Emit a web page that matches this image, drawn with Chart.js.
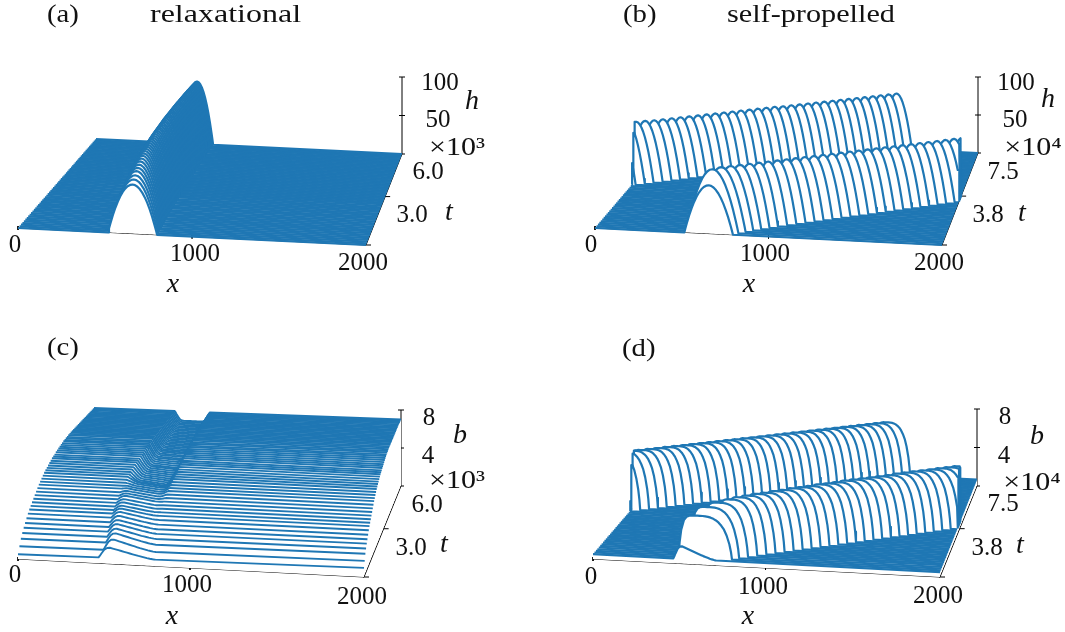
<!DOCTYPE html>
<html><head><meta charset="utf-8">
<script src="https://cdn.jsdelivr.net/npm/chart.js@4"></script>
<style>
html,body{margin:0;padding:0;background:#fff;overflow:hidden}
canvas{position:absolute;display:block}
</style></head><body>
<canvas id="pa" width="533" height="316" style="left:0;top:0"></canvas>
<canvas id="pb" width="532" height="316" style="left:533px;top:0"></canvas>
<canvas id="pc" width="533" height="316" style="left:0;top:316px"></canvas>
<canvas id="pd" width="532" height="316" style="left:533px;top:316px"></canvas>
<script>
// ---------- trace times ----------
const tRelax=[0,100,200,300,400,500,600,700,800,900,1000,1100,1200,1300,1400,1500,1600,1700,1800,1900,2000,2100,2200,2300,2400,2500,2600,2700,2800,2900,3000,3100,3200,3300,3400,3500,3600,3700,3800,3900,4000,4100,4200,4300,4400,4500,4600,4700,4800,4900,5000,5100,5200,5300,5400,5500,5600,5700,5800,5900,6000];
const tSelf=[0,1250,2500,3750,5000,6250,7500,8750,10000,11250,12500,13750,15000,16250,17500,18750,20000,21250,22500,23750,25000,26250,27500,28750,30000,31250,32500,33750,35000,36250,37500,38750,40000,41250,42500,43750,45000,46250,47500,48750,50000,51250,52500,53750,55000,56250,57500,58750,60000,61250,62500,63750,65000,66250,67500,68750,70000,71250,72500,73750,75000];
// ---------- profile shapes on a common grid across the bump ----------
const sGrid=[0,.02,.05,.1,.15,.2,.25,.3,.35,.4,.45,.5,.55,.6,.65,.7,.75,.8,.85,.9,.95,.98,1];
const domeShape=[0,.08,.19,.36,.51,.64,.75,.84,.91,.96,.99,1,.99,.96,.91,.84,.75,.64,.51,.36,.19,.08,0];
const plateauShape=[0,.35,.65,.88,.96,.99,1,1,1,1,1,.995,.985,.97,.945,.91,.86,.79,.7,.56,.36,.18,0];
const sawShape=[0,.15,.4,.78,.97,1,.93,.86,.79,.72,.65,.58,.51,.44,.37,.3,.24,.18,.12,.07,.03,.01,0];
const dipShape=[0,.1,.3,.6,.85,.97,1,1,1,1,1,1,1,1,1,1,1,.98,.9,.65,.3,.1,0];
// ---------- (a) relaxational h ----------
const aPeak=[56,60,63,66,68,70,72,73.5,75,76,77,77.8,78.5,79,79.5,80,80.4,80.8,81.2,81.6,82,82.2,82.4,82.6,82.8,83,83.2,83.4,83.6,83.8,84,84,84,84,84,84,84,84,84,84,84,83.9,83.8,83.7,83.6,83.5,83.4,83.3,83.2,83.1,83,82.8,82.6,82.4,82.2,82,81.8,81.6,81.4,81.2,81];
const aLeft=[517,519,521,523,525,527,528,530,531,532,533,534,535,536,537,538,539,540,540,541,542,542,543,544,544,545,545,546,546,547,547,548,548,549,549,550,550,550,551,551,551,552,552,552,553,553,553,553,554,554,554,554,554,555,555,555,555,555,555,555,555];
const aRight=[799,798,797,796,795,794,793,792,791,790,789,788,787,786,785,784,783,783,782,781,780,780,779,778,778,777,776,776,775,775,774,773,773,772,772,771,771,770,770,769,769,769,768,768,768,767,767,767,766,766,766,766,765,765,765,765,765,765,765,765,765];
// ---------- (b) self-propelled h ----------
const bLeft=[515,520,575,633,689,745,798,846,894,942,990,1039,1087,1135,1183,1231,1279,1328,1376,1424,1472,1520,1569,1617,1665,1713,1761,1810,1858,1904,1952,1,47,95,142,189,236,283,330,378,425,472,519,566,613,661,708,755,802,849,896,944,991,1038,1085,1132,1180,1227,1274,1321,1368];
const bRight=[795,820,855,893,933,975,1018,1066,1114,1162,1210,1257,1305,1353,1401,1449,1497,1544,1592,1640,1688,1736,1783,1831,1879,1927,1975,2022,2070,2116,2164,211,257,303,350,397,444,491,538,584,631,678,725,772,819,865,912,959,1006,1053,1100,1146,1193,1240,1287,1334,1380,1427,1474,1521,1568];
const bPeak=[56,73,74,74,74,74,74,74,74,74,74,74,74,74,74,74,74,74,74,74,74,74,74,74,74,74,74,74,74,74,74,73.5,73.5,73.5,73.5,73.5,73.5,73.5,73.5,73.5,73.5,73.5,73.5,73.5,73.5,73.5,73,73,73,73,73,73,73,73,73,73,73,73,73,73,73];
// ---------- (c) relaxational b ----------
const cFlat=[.45,1.05,1.6,2,2.35,2.65,2.95,3.25,3.5,3.7,3.9,4.1,4.3,4.5,4.7,4.9,5.05,5.2,5.35,5.5,5.6,5.7,5.8,5.9,6,6.1,6.15,6.2,6.3,6.35,6.4,6.45,6.5,6.55,6.6,6.6,6.65,6.65,6.7,6.7,6.7,6.7,6.7,6.7,6.7,6.7,6.7,6.7,6.7,6.7,6.7,6.7,6.7,6.7,6.7,6.7,6.7,6.7,6.7,6.7,6.7];
const cTilt=[.4,.3,.25,.2,.15,.1,.08,.06,.04,.02,0,0,0,0,0,0,0,0,0,0,0,0,0,0,0,0,0,0,0,0,0,.02,.04,.06,.08,.1,.1,.12,.12,.14,.14,.16,.16,.18,.18,.2,.2,.22,.22,.24,.24,.26,.26,.28,.28,.3,.3,.3,.3,.3,.3];
const cLeft=[470,490,497,497,495,494,493,493,493,493,493,494,495,496,497,498,500,502,504,506,508,510,512,514,516,518,520,522,524,526,528,529,529,530,530,530,530,530,530,530,530,530,530,530,530,530,530,530,530,530,530,530,530,530,530,530,530,530,530,530,530];
const cRight=[800,795,790,785,782,780,778,776,775,775,774,775,776,777,778,779,780,781,782,783,784,785,785,786,786,786,787,787,787,787,787,786,786,785,785,784,784,783,782,781,780,779,778,777,776,775,774,773,772,771,770,769,768,767,766,765,764,763,762,761,760];
const cRidge=[.95,1,.9,.8,.75,.7,.65,.6,.55,.5,.5,.48,.46,.44,.42,.4,.39,.38,.37,.36,.35,.33,.31,.3,.28,.27,.26,.24,.23,.21,.2,.19,.18,.17,.16,.15,.14,.13,.12,.11,.1,.1,.09,.09,.08,.08,.07,.07,.06,.06,.05,.05,.04,.04,.03,.03,.02,.02,.01,.01,0];
const cDip=[0,0,0,0,0,0,0,.02,.04,.06,.08,.1,.1,.2,.3,.4,.5,.6,.7,.85,1,1.1,1.15,1.2,1.25,1.3,1.3,1.3,1.35,1.35,1.4,1.4,1.4,1.4,1.4,1.4,1.4,1.4,1.4,1.4,1.4,1.38,1.36,1.34,1.32,1.3,1.28,1.26,1.24,1.22,1.2,1.18,1.16,1.14,1.12,1.1,1.08,1.06,1.04,1.02,1];
// ---------- (d) self-propelled b ----------
const dFlat=[.45,.45,.45,.45,.46,.46,.46,.47,.47,.47,.48,.48,.48,.49,.49,.49,.5,.5,.5,.51,.51,.51,.52,.52,.52,.53,.53,.53,.54,.54,.54,.55,.55,.55,.56,.56,.56,.57,.57,.57,.58,.58,.58,.59,.59,.6,.6,.61,.61,.62,.62,.63,.63,.64,.64,.65,.65,.66,.66,.67,.67];
const dLeft=[467,490,550,615,687,734,781,828,875,922,969,1016,1063,1110,1157,1204,1251,1298,1345,1392,1439,1486,1533,1580,1627,1674,1721,1768,1815,1862,1909,-39,9,56,103,150,198,245,292,340,387,434,482,529,576,623,671,718,765,813,860,907,955,1002,1049,1096,1144,1191,1238,1286,1333];
const dRight=[715,800,835,880,927,974,1021,1068,1115,1162,1209,1256,1303,1350,1397,1444,1491,1538,1585,1632,1679,1726,1773,1820,1867,1914,1961,2008,2055,2102,2149,196,244,291,338,385,433,480,527,575,622,669,717,764,811,858,906,953,1000,1048,1095,1142,1190,1237,1284,1331,1379,1426,1473,1521,1568];
const dPlateau=[0,3.9,4.6,4.9,5.1,5.2,5.25,5.3,5.3,5.35,5.35,5.4,5.4,5.4,5.45,5.45,5.45,5.5,5.5,5.5,5.5,5.5,5.5,5.55,5.55,5.55,5.55,5.55,5.55,5.55,5.55,5.5,5.5,5.5,5.5,5.5,5.5,5.5,5.5,5.5,5.5,5.5,5.5,5.5,5.5,5.5,5.5,5.5,5.5,5.5,5.5,5.5,5.5,5.5,5.5,5.5,5.5,5.5,5.5,5.5,5.5];
const dSaw=[1.15,0,0,0,0,0,0,0,0,0,0,0,0,0,0,0,0,0,0,0,0,0,0,0,0,0,0,0,0,0,0,0,0,0,0,0,0,0,0,0,0,0,0,0,0,0,0,0,0,0,0,0,0,0,0,0,0,0,0,0,0];
const zeros=tRelax.map(()=>0);
// ---------- tick values ----------
const xTicks=[0,1000,2000];
const tTicksRelax=[3000],tTicksSelf=[37500];
const hTicks=[0,50,100],bTicks=[0,4,8];

const BLUE='#1f77b4',FONT='"Liberation Serif",serif',SZ=25,SZI=28;
const panels=[
 {id:'pa',lw:2.2,box:[0,0,533,316],corners:[[18,228],[366,245],[402,154],[96,139]],tMax:6000,zMax:100,zPx:77,
  times:tRelax,flat:zeros,tilt:zeros,L:aLeft,R:aRight,ampA:aPeak,ampB:zeros,shapeA:domeShape,shapeB:sawShape,tTicks:tTicksRelax,zTicks:hTicks,
  texts:[['(a)',47,15,1.15],['relaxational',150,15,1.28],['0',15,245],['1000',195,254],['2000',363,263],['x',173,285,1,1],['100',440,83],['50',438,120],['h',472,102,1,1],['×10³',457,148],['6.0',428,172],['3.0',412,215],['t',449,213,1,1]]},
 {id:'pb',lw:2.2,box:[533,0,532,316],corners:[[595,228],[942,245],[978,153],[672,138]],tMax:75000,zMax:100,zPx:76,
  times:tSelf,flat:zeros,tilt:zeros,L:bLeft,R:bRight,ampA:bPeak,ampB:zeros,shapeA:domeShape,shapeB:sawShape,tTicks:tTicksSelf,zTicks:hTicks,
  texts:[['(b)',623,15,1.15],['self-propelled',727,15,1.21],['0',591,245],['1000',765,254],['2000',939,263],['x',749,285,1,1],['100',1016,83],['50',1015,120],['h',1048,100,1,1],['×10⁴',1033,148],['7.5',1003,172],['3.8',988,215],['t',1022,214,1,1]]},
 {id:'pc',lw:1.9,box:[0,316,533,316],corners:[[18,559],[364,577],[401,486],[94,471]],tMax:6000,zMax:8,zPx:76,
  times:tRelax,flat:cFlat,tilt:cTilt,L:cLeft,R:cRight,ampA:zeros,ampB:cRidge,dip:cDip,shapeA:dipShape,shapeB:sawShape,tTicks:tTicksRelax,zTicks:bTicks,
  texts:[['(c)',47,348,1.15],['0',15,575],['1000',187,585],['2000',362,597],['x',172,617,1,1],['8',429,418],['4',428,456],['b',460,436,1,1],['×10³',457,481],['6.0',427,505],['3.0',411,548],['t',444,545,1,1]]},
 {id:'pd',lw:2.2,box:[533,316,532,316],corners:[[593,559],[940,577],[977,486],[670,471]],tMax:75000,zMax:8,zPx:77,
  times:tSelf,flat:dFlat,tilt:zeros,L:dLeft,R:dRight,ampA:dPlateau,ampB:dSaw,shapeA:plateauShape,shapeB:sawShape,tTicks:tTicksSelf,zTicks:bTicks,
  texts:[['(d)',622,349,1.15],['0',591,577],['1000',763,587],['2000',938,596],['x',748,617,1,1],['8',1005,417],['4',1004,456],['b',1037,437,1,1],['×10⁴',1032,483],['7.5',1003,504],['3.8',987,548],['t',1020,546,1,1]]}
];

function projector(p){
 const [[x0,y0],[x1,y1],[x2,y2],[x3,y3]]=p.corners;
 const dx1=x1-x2,dx2=x3-x2,sx=x0-x1+x2-x3,dy1=y1-y2,dy2=y3-y2,sy=y0-y1+y2-y3;
 const det=dx1*dy2-dx2*dy1,g=(sx*dy2-dx2*sy)/det,h=(dx1*sy-sx*dy1)/det;
 const a=x1-x0+g*x1,b=x3-x0+h*x3,d=y1-y0+g*y1,e=y3-y0+h*y3,w1=g+h+1;
 return (x,t,z)=>{const u=x/2000,v=t/p.tMax,w=g*u+h*v+1;
  return {x:(a*u+b*v+x0)/w,y:(d*u+e*v+y0)/w-z*(p.zPx/p.zMax)*(w1/w)};};
}
function traceProfile(p,n){
 const pts=sGrid.map((s,i)=>{
  const raw=p.L[n]+s*(p.R[n]-p.L[n]),x=((raw%2000)+2000)%2000;
  let v=p.ampA[n]*p.shapeA[i]+p.ampB[n]*p.shapeB[i];
  if(p.dip)v-=p.dip[n]*p.shapeA[i];
  return {x,v};
 }).sort((a,b)=>a.x-b.x);
 // a bump crossing the periodic boundary ends in a vertical drop at x=0 and x=2000
 const all=[{x:0,v:0},{x:0,v:pts[0].v},...pts,{x:2000,v:pts[pts.length-1].v},{x:2000,v:0}];
 return all.map(q=>({x:q.x,z:p.flat[n]+p.tilt[n]*q.x/2000+q.v}));
}
const seg=(data)=>({data,borderColor:'#000',borderWidth:1,pointRadius:0,showLine:true,fill:false,borderCapStyle:'butt'});
const textPlugin={id:'panelText',afterDraw(c,_,o){
 const ctx=c.ctx,sX=c.scales.x,sY=c.scales.y;
 ctx.save();ctx.fillStyle='#111';ctx.textAlign='center';ctx.textBaseline='middle';
 o.texts.forEach(([s,x,y,k,it])=>{
  const isTitle=k&&!it,px=sX.getPixelForValue(x),py=sY.getPixelForValue(y);
  ctx.font=(it?'italic '+SZI:SZ)+'px '+FONT;
  ctx.save();
  if(isTitle){ctx.textAlign='left';ctx.translate(px,py);ctx.scale(k,1);ctx.fillText(s,0,0);}
  else if(s[0]==='×'){ctx.translate(px,py);ctx.scale(1.2,1);ctx.fillText(s,0,0);}
  else ctx.fillText(s,px,py);
  ctx.restore();
 });
 ctx.restore();
}};
panels.forEach(p=>{
 const P=projector(p),ds=[];
 p.times.forEach((t,n)=>{
  const prof=traceProfile(p,n);
  ds.push({data:prof.map(q=>P(q.x,t,q.z)),borderColor:BLUE,borderWidth:p.lw,borderJoinStyle:'round',pointRadius:0,showLine:true,tension:0,backgroundColor:'#fff',fill:'+1'});
  ds.push({data:prof.map(q=>P(q.x,t,0)),borderWidth:0,borderColor:'rgba(0,0,0,0)',pointRadius:0,showLine:true,tension:0,fill:false});
 });
 const o=P(2000,0,0),br=P(2000,p.tMax,0);
 ds.push(seg([P(0,0,0),o]),seg([o,br]),seg([br,P(2000,p.tMax,p.zMax)]));
 xTicks.forEach(v=>{const q=P(v,0,0);
  ds.push(seg(v===2000?[{x:q.x-1,y:q.y},{x:q.x+5,y:q.y}]:[{x:q.x,y:q.y-2},{x:q.x,y:q.y+2}]));});
 p.tTicks.forEach(v=>{const q=P(2000,v,0);ds.push(seg([{x:q.x-1,y:q.y},{x:q.x+5,y:q.y}]));});
 p.zTicks.forEach(v=>{const q=P(2000,p.tMax,v);ds.push(seg([{x:q.x-3,y:q.y},{x:q.x+3,y:q.y}]));});
 const [bx,by,bw,bh]=p.box;
 new Chart(document.getElementById(p.id),{type:'scatter',data:{datasets:ds},plugins:[textPlugin],options:{
  responsive:false,animation:false,events:[],layout:{padding:0},
  scales:{x:{type:'linear',display:false,min:bx,max:bx+bw},y:{type:'linear',display:false,reverse:true,min:by,max:by+bh}},
  plugins:{legend:{display:false},tooltip:{enabled:false},title:{display:false},panelText:{texts:p.texts},filler:{propagate:false}}
 }});
});
</script></body></html>
